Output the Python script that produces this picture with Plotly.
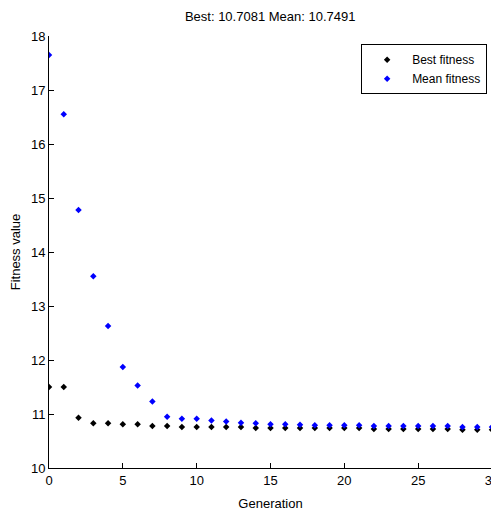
import plotly.graph_objects as go

generations = list(range(31))
best_fitness = [11.50, 11.50, 10.93, 10.83, 10.83, 10.81, 10.81, 10.78, 10.78, 10.76,
                10.76, 10.76, 10.76, 10.76, 10.74, 10.74, 10.74, 10.74, 10.74, 10.74,
                10.74, 10.74, 10.72, 10.72, 10.72, 10.72, 10.72, 10.72, 10.71, 10.71, 10.71]
mean_fitness = [17.65, 16.55, 14.78, 13.55, 12.63, 11.87, 11.53, 11.23, 10.95, 10.91,
                10.91, 10.88, 10.86, 10.84, 10.83, 10.81, 10.81, 10.80, 10.79, 10.79,
                10.79, 10.79, 10.78, 10.78, 10.78, 10.78, 10.78, 10.78, 10.76, 10.76, 10.76]
x_ticks = [0, 5, 10, 15, 20, 25, 30]
y_ticks = [10, 11, 12, 13, 14, 15, 16, 17, 18]

font = "Liberation Sans, Arial, sans-serif"

fig = go.Figure()
fig.add_trace(go.Scatter(x=generations, y=best_fitness, mode="markers", name="Best fitness",
                         marker=dict(symbol="diamond", size=5, color="black")))
fig.add_trace(go.Scatter(x=generations, y=mean_fitness, mode="markers", name="Mean fitness",
                         marker=dict(symbol="diamond", size=5, color="blue")))

axis_common = dict(showline=True, linecolor="black", linewidth=1, ticks="inside",
                   ticklen=5, tickcolor="black", showgrid=False, zeroline=False,
                   mirror=False, automargin=False, ticklabeloverflow="allow",
                   tickfont=dict(family=font, size=13, color="black"))
fig.update_layout(
    width=491, height=508,
    margin=dict(l=41, r=7, t=28, b=48),
    paper_bgcolor="white", plot_bgcolor="white",
    font=dict(family=font, size=12, color="black"),
    title=dict(text="Best: 10.7081 Mean: 10.7491", x=0.534, xanchor="center",
               y=0.984, yanchor="middle", font=dict(family=font, size=13, color="black")),
    xaxis=dict(range=[0, 30], tickvals=x_ticks, title=dict(text="Generation", standoff=12,
               font=dict(family=font, size=13)), **axis_common),
    yaxis=dict(range=[10, 18], tickvals=y_ticks, title=dict(text="Fitness value", standoff=8,
               font=dict(family=font, size=13)), **axis_common),
    legend=dict(x=0.989, xanchor="right", y=0.981, yanchor="top", bgcolor="white",
                bordercolor="black", borderwidth=1, font=dict(family=font, size=12),
                itemwidth=40, tracegroupgap=2),
    showlegend=True,
)
fig.write_html("out.html")
